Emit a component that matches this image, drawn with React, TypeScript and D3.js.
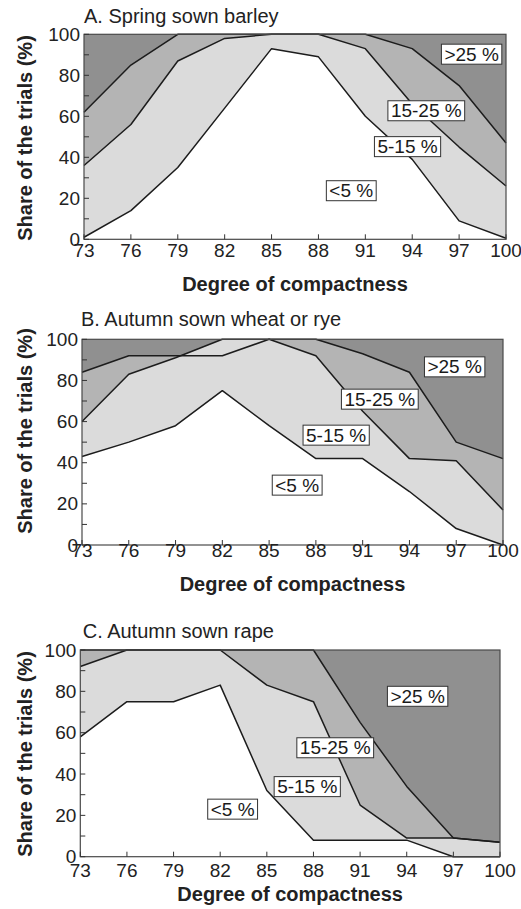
import React, { useEffect, useRef } from "react";
import * as d3 from "d3";

// ---- data ----
const xCats = [73, 76, 79, 82, 85, 88, 91, 94, 97, 100];
const yTicks = [0, 20, 40, 60, 80, 100];
const bandLabels = [">25 %", "15-25 %", "5-15 %", "<5 %"];

// cumulative shares (%) : <5 %, <15 %, <25 %
const barleyLt5 = [1, 14, 35, 64, 93, 89, 60, 39, 9, 0.5];
const barleyLt15 = [36, 56, 87, 98, 100, 100, 93, 66, 45, 26];
const barleyLt25 = [62, 85, 100, 100, 100, 100, 100, 93, 75, 47];
const barleyLabelX = [97.8, 94.9, 93.7, 90.1];
const barleyLabelY = [90.4, 62.8, 45.3, 23.8];

const wheatLt5 = [43, 50, 58, 75, 58, 42, 42, 26, 8, 0];
const wheatLt15 = [60, 83, 91, 100, 100, 92, 65, 42, 41, 17];
const wheatLt25 = [84, 92, 92, 92, 100, 100, 93, 84, 50, 42];
const wheatLabelX = [96.9, 92.1, 89.3, 86.8];
const wheatLabelY = [86.7, 71, 53.5, 29.2];

const rapeLt5 = [58, 75, 75, 83, 32, 8, 8, 8, 0, 0];
const rapeLt15 = [92, 100, 100, 100, 83, 75, 25, 9, 9, 7];
const rapeLt25 = [100, 100, 100, 100, 100, 100, 65, 34, 9, 7];
const rapeLabelX = [94.7, 89.4, 87.6, 82.8];
const rapeLabelY = [77.7, 52.8, 34, 23.1];

const panelTitles = ["A. Spring sown barley", "B. Autumn sown wheat or rye", "C. Autumn sown rape"];

// ---- layout ----
const layouts = [
  { left: 84, right: 506, top: 34.3, bottom: 239.3, titleX: 84, titleY: 22.7, tickY: 256.5, xTitleY: 290.5, yTitleC: 138 },
  { left: 82, right: 503, top: 339.3, bottom: 545, titleX: 81, titleY: 326, tickY: 557, xTitleY: 591, yTitleC: 431 },
  { left: 80.3, right: 500, top: 650, bottom: 856.7, titleX: 82.7, titleY: 637.7, tickY: 876.5, xTitleY: 901, yTitleC: 754 },
];

const panelData = [
  { lt5: barleyLt5, lt15: barleyLt15, lt25: barleyLt25, lx: barleyLabelX, ly: barleyLabelY },
  { lt5: wheatLt5, lt15: wheatLt15, lt25: wheatLt25, lx: wheatLabelX, ly: wheatLabelY },
  { lt5: rapeLt5, lt15: rapeLt15, lt25: rapeLt25, lx: rapeLabelX, ly: rapeLabelY },
];

const COLORS = { dark: "#909090", medium: "#b4b4b4", light: "#dbdbdb", white: "#ffffff" };
const FONT = "'Liberation Sans', Arial, Helvetica, sans-serif";
const TICK_FS = 19;

export default function App() {
  const ref = useRef<SVGSVGElement | null>(null);

  useEffect(() => {
    const svg = d3.select(ref.current);
    svg.selectAll("*").remove();

    layouts.forEach((L, pi) => {
      const D = panelData[pi];
      const x = d3.scaleLinear().domain([73, 100]).range([L.left, L.right]);
      const y = d3.scaleLinear().domain([0, 100]).range([L.bottom, L.top]);
      const g = svg.append("g");

      const area = d3
        .area<number>()
        .x((_, i) => x(xCats[i]))
        .y0(y(0))
        .y1((d) => y(d));
      const line = d3
        .line<number>()
        .x((_, i) => x(xCats[i]))
        .y((d) => y(d));

      // bands, painted back to front
      g.append("rect")
        .attr("x", x(73))
        .attr("y", y(100))
        .attr("width", x(100) - x(73))
        .attr("height", y(0) - y(100))
        .attr("fill", COLORS.dark);
      g.append("path").attr("d", area(D.lt25)).attr("fill", COLORS.medium);
      g.append("path").attr("d", area(D.lt15)).attr("fill", COLORS.light);
      g.append("path").attr("d", area(D.lt5)).attr("fill", COLORS.white);

      [D.lt25, D.lt15, D.lt5].forEach((vals) => {
        g.append("path")
          .attr("d", line(vals))
          .attr("fill", "none")
          .attr("stroke", "#1c1c1c")
          .attr("stroke-width", 1.5)
          .attr("stroke-linejoin", "round");
      });

      // frame
      g.append("rect")
        .attr("x", x(73))
        .attr("y", y(100))
        .attr("width", x(100) - x(73))
        .attr("height", y(0) - y(100))
        .attr("fill", "none")
        .attr("stroke", "#4a4a4a")
        .attr("stroke-width", 1.2);

      // ticks (inward)
      d3.range(0, 101, 10).forEach((v) => {
        g.append("line")
          .attr("x1", x(73))
          .attr("x2", x(73) + 5)
          .attr("y1", y(v))
          .attr("y2", y(v))
          .attr("stroke", "#333")
          .attr("stroke-width", 1);
      });
      xCats.forEach((c) => {
        g.append("line")
          .attr("x1", x(c))
          .attr("x2", x(c))
          .attr("y1", y(0))
          .attr("y2", y(0) - 5)
          .attr("stroke", "#333")
          .attr("stroke-width", 1);
      });

      // tick labels
      yTicks.forEach((v) => {
        g.append("text")
          .attr("x", x(73) - 4)
          .attr("y", y(v) + 6.5)
          .attr("text-anchor", "end")
          .attr("font-family", FONT)
          .attr("font-size", TICK_FS)
          .attr("fill", "#222")
          .text(String(v));
      });
      xCats.forEach((c) => {
        g.append("text")
          .attr("x", x(c))
          .attr("y", L.tickY)
          .attr("text-anchor", "middle")
          .attr("font-family", FONT)
          .attr("font-size", TICK_FS)
          .attr("fill", "#222")
          .text(String(c));
      });

      // titles
      g.append("text")
        .attr("x", L.titleX)
        .attr("y", L.titleY)
        .attr("font-family", FONT)
        .attr("font-size", 20)
        .attr("fill", "#222")
        .text(panelTitles[pi]);
      g.append("text")
        .attr("x", (L.left + L.right) / 2)
        .attr("y", L.xTitleY)
        .attr("text-anchor", "middle")
        .attr("font-family", FONT)
        .attr("font-weight", "bold")
        .attr("font-size", 20)
        .attr("fill", "#222")
        .text("Degree of compactness");
      g.append("text")
        .attr("transform", `translate(32,${L.yTitleC}) rotate(-90)`)
        .attr("text-anchor", "middle")
        .attr("font-family", FONT)
        .attr("font-weight", "bold")
        .attr("font-size", 20)
        .attr("fill", "#222")
        .text("Share of the trials (%)");

      // band labels in boxes
      bandLabels.forEach((lab, i) => {
        const cx = x(D.lx[i]);
        const cy = y(D.ly[i]);
        const lg = g.append("g");
        const rect = lg.append("rect");
        const t = lg
          .append("text")
          .attr("x", cx)
          .attr("y", cy + 6.8)
          .attr("text-anchor", "middle")
          .attr("font-family", FONT)
          .attr("font-size", 19)
          .attr("fill", "#1a1a1a")
          .text(lab);
        const w = (t.node() as SVGTextElement).getComputedTextLength();
        rect
          .attr("x", cx - w / 2 - 3)
          .attr("y", cy - 9.8)
          .attr("width", w + 6)
          .attr("height", 20)
          .attr("fill", "#fff")
          .attr("stroke", "#333")
          .attr("stroke-width", 1);
      });
    });
  }, []);

  return (
    <svg
      ref={ref}
      width={521}
      height={909}
      style={{ position: "absolute", left: 0, top: 0, display: "block", background: "#fff" }}
    />
  );
}
